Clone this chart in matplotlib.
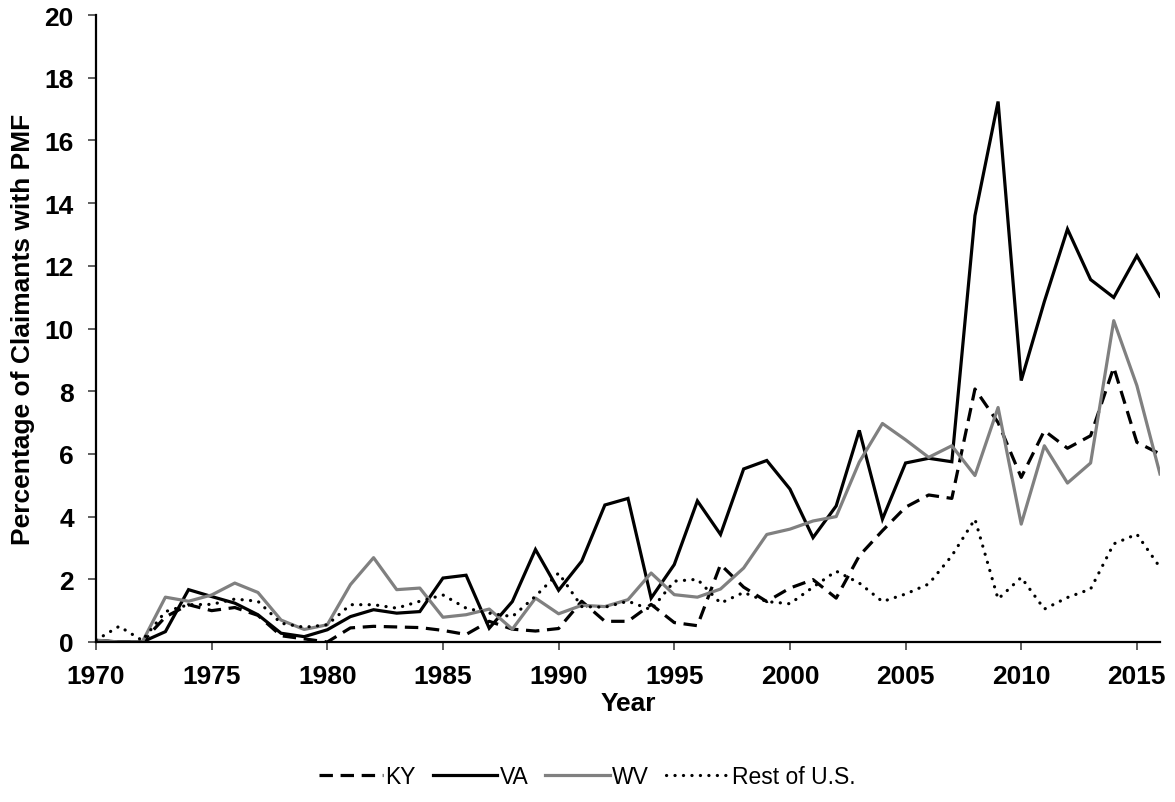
import matplotlib
matplotlib.use("Agg")
import matplotlib.pyplot as plt
import numpy as np

years = list(range(1970, 2017))

ky = [0.05, 0.0, 0.0, 0.8, 1.19, 1.0, 1.1, 0.85, 0.2, 0.1,
      0.0, 0.45, 0.5, 0.48, 0.46, 0.37, 0.24, 0.66, 0.41, 0.35,
      0.43, 1.3, 0.66, 0.66, 1.2, 0.62, 0.52, 2.47, 1.75, 1.29,
      1.72, 1.99, 1.40, 2.75, 3.55, 4.3, 4.69, 4.58, 8.07, 7.0,
      5.25, 6.74, 6.18, 6.58, 8.76, 6.37, 6.0]

va = [0.05, 0.0, 0.0, 0.33, 1.67, 1.45, 1.24, 0.87, 0.28, 0.17,
      0.39, 0.81, 1.03, 0.92, 0.97, 2.04, 2.13, 0.44, 1.29, 2.95,
      1.65, 2.58, 4.37, 4.58, 1.40, 2.47, 4.5, 3.43, 5.52, 5.79,
      4.88, 3.33, 4.34, 6.75, 3.92, 5.71, 5.86, 5.75, 13.6, 17.24,
      8.34, 10.86, 13.17, 11.56, 10.99, 12.32, 11.03]

wv = [0.06, 0.0, 0.0, 1.43, 1.3, 1.5, 1.88, 1.58, 0.7, 0.4,
      0.55, 1.83, 2.69, 1.67, 1.72, 0.79, 0.87, 1.05, 0.41, 1.40,
      0.90, 1.17, 1.13, 1.35, 2.2, 1.51, 1.43, 1.69, 2.36, 3.43,
      3.6, 3.86, 4.0, 5.74, 6.97, 6.45, 5.89, 6.26, 5.31, 7.48,
      3.76, 6.26, 5.07, 5.71, 10.25, 8.18, 5.36]

rest = [0.06, 0.5, 0.05, 0.97, 1.19, 1.2, 1.37, 1.3, 0.6, 0.47,
        0.55, 1.19, 1.19, 1.08, 1.3, 1.5, 1.08, 0.92, 0.81, 1.46,
        2.2, 1.13, 1.11, 1.3, 1.03, 1.94, 2.0, 1.24, 1.58, 1.29,
        1.22, 1.75, 2.26, 1.88, 1.29, 1.53, 1.85, 2.75, 3.92, 1.37,
        2.06, 1.05, 1.42, 1.69, 3.13, 3.44, 2.38]

series_labels = ["KY", "VA", "WV", "Rest of U.S."]
x_ticks = list(range(1970, 2016, 5))
y_ticks = list(range(0, 21, 2))

plt.rcParams['font.family'] = ['Liberation Sans', 'DejaVu Sans']

fig = plt.figure(figsize=(11.75, 8.03), dpi=100)
ax = fig.add_axes([96/1175, 1 - 643/803, (1160-96)/1175, (643-16)/803])

lw = 2.3
ax.plot(years, ky, color='black', lw=lw, dashes=(4.2, 2.4), label=series_labels[0])
ax.plot(years, va, color='black', lw=lw, solid_joinstyle='miter', label=series_labels[1])
ax.plot(years, wv, color='#808080', lw=lw, label=series_labels[2])
ax.plot(years, rest, color='black', lw=lw, dashes=(0.05, 2.6), dash_capstyle='round',
        label=series_labels[3])

ax.set_xlim(1970, 2016)
ax.set_ylim(0, 20)
ax.set_xticks(x_ticks)
ax.set_yticks(y_ticks)
for s in ['top', 'right']:
    ax.spines[s].set_visible(False)
for s in ['left', 'bottom']:
    ax.spines[s].set_linewidth(1.6)
    ax.spines[s].set_color('black')
ax.tick_params(axis='both', direction='out', length=6, width=1.1, color='#333333',
               labelsize=19, pad=10)
for lab in ax.get_xticklabels() + ax.get_yticklabels():
    lab.set_fontweight('bold')

ax.set_xlabel("Year", fontsize=19, fontweight='bold')
ax.xaxis.label.set_va('center')
ax.xaxis.set_label_coords(0.5, -(704 - 643) / 627)
ax.set_ylabel("Percentage of Claimants with PMF", fontsize=19, fontweight='bold')
ax.yaxis.set_label_coords(-(96 - 35) / 1064, 0.5)

fig.legend(loc='center', bbox_to_anchor=(0.5, 1 - 778/803), ncol=4, frameon=False,
           fontsize=16.5, handlelength=2.8, handletextpad=0.1, columnspacing=0.75)

fig.savefig("out.png", dpi=100)
